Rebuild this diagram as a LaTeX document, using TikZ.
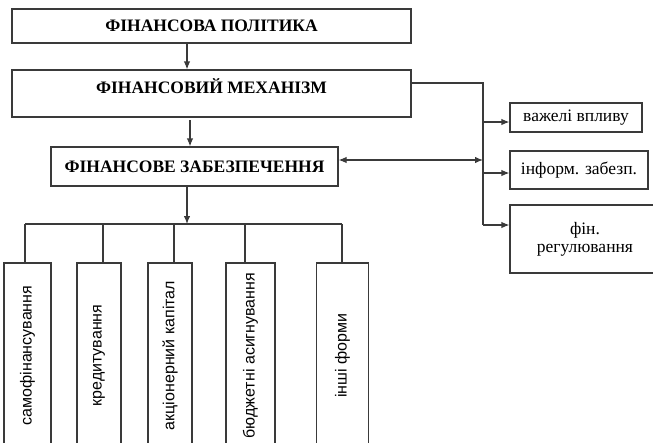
\documentclass[tikz,border=0pt]{standalone}
\usepackage{fontspec}
\setmainfont{Liberation Serif}
\newfontfamily\sansf{Liberation Sans}
\usetikzlibrary{arrows.meta,calc}
\definecolor{ln}{HTML}{3A3A3A}
\begin{document}
\begin{tikzpicture}[x=1pt,y=-1pt,
  box/.style={draw=ln, line width=1.2pt, inner sep=0pt, fill=white},
  title/.style={font=\bfseries\fontsize{17.5}{20}\selectfont},
  rtext/.style={font=\fontsize{17.5}{18}\selectfont, align=center},
  btext/.style={font=\sansf\fontsize{16}{18}\selectfont},
  conn/.style={draw=ln, line width=1.2pt},
  arr/.style={conn, -{Latex[length=8pt,width=6.5pt]}},
  darr/.style={conn, {Latex[length=8pt,width=6.5pt]}-{Latex[length=8pt,width=6.5pt]}}]
\useasboundingbox (0,0) rectangle (653,442);
\fill[white] (0,0) rectangle (653,442);

% main column
\node[box,title,minimum width=399pt,minimum height=34pt] (b1) at (211.5,26) {ФІНАНСОВА ПОЛІТИКА};
\node[box,title,minimum width=399pt,minimum height=47pt,text height=9pt,text depth=9pt] (b2) at (211.5,93.5) {ФІНАНСОВИЙ МЕХАНІЗМ};
\node[box,title,minimum width=287pt,minimum height=39pt] (b3) at (194.5,166.5) {ФІНАНСОВЕ ЗАБЕЗПЕЧЕННЯ};

% right column
\node[box,rtext,minimum width=132pt,minimum height=29pt] (r1) at (576,117.5) {важелі впливу};
\node[box,rtext,minimum width=138pt,minimum height=38pt] (r2) at (579,170) {інформ. забезп.};
\node[box,rtext,minimum width=150pt,minimum height=68pt] (r3) at (585,239) {фін.\\регулювання};

% bottom forms
\node[box,btext,rotate=90,minimum width=185pt,minimum height=47pt] (s1) at (27.5,355.5) {самофінансування};
\node[box,btext,rotate=90,minimum width=185pt,minimum height=44pt] (s2) at (99,355.5) {кредитування};
\node[box,btext,rotate=90,minimum width=185pt,minimum height=44pt] (s3) at (170,355.5) {акціонерний капітал};
\node[box,btext,rotate=90,minimum width=185pt,minimum height=49pt] (s4) at (250.5,355.5) {бюджетні асигнування};
\node[box,btext,rotate=90,minimum width=185pt,minimum height=52pt] (s5) at (342.5,355.5) {інші форми};

% vertical arrows
\coordinate (ax) at (187,0);
\draw[arr] (b1.south -| ax) -- (b2.north -| ax);
\coordinate (ay) at (190,120);
\draw[arr] (ay) -- (ay |- b3.north);
\coordinate (bus) at (187,224);
\draw[arr] (b3.south -| bus) -- (bus);

% bus to forms
\coordinate (d1) at (25,224);
\coordinate (d2) at (103,224);
\coordinate (d3) at (174,224);
\coordinate (d4) at (245,224);
\coordinate (d5) at (342,224);
\draw[conn] (d1) -- (d5);
\draw[conn] (d1) -- (d1 |- s1.east);
\draw[conn] (d2) -- (d2 |- s2.east);
\draw[conn] (d3) -- (d3 |- s3.east);
\draw[conn] (d4) -- (d4 |- s4.east);
\draw[conn] (d5) -- (d5 |- s5.east);

% right side
\coordinate (vt) at (483,83);
\coordinate (vb) at (483,225);
\coordinate (v0) at (483,160);
\coordinate (v1) at (483,122);
\coordinate (v2) at (483,173);
\draw[conn] (b2.east |- vt) -- (vt) -- (vb);
\draw[arr] (vb) -- (vb -| r3.west);
\draw[arr] (v1) -- (v1 -| r1.west);
\draw[arr] (v2) -- (v2 -| r2.west);
\draw[darr] (b3.east |- v0) -- (v0);
\end{tikzpicture}
\end{document}
